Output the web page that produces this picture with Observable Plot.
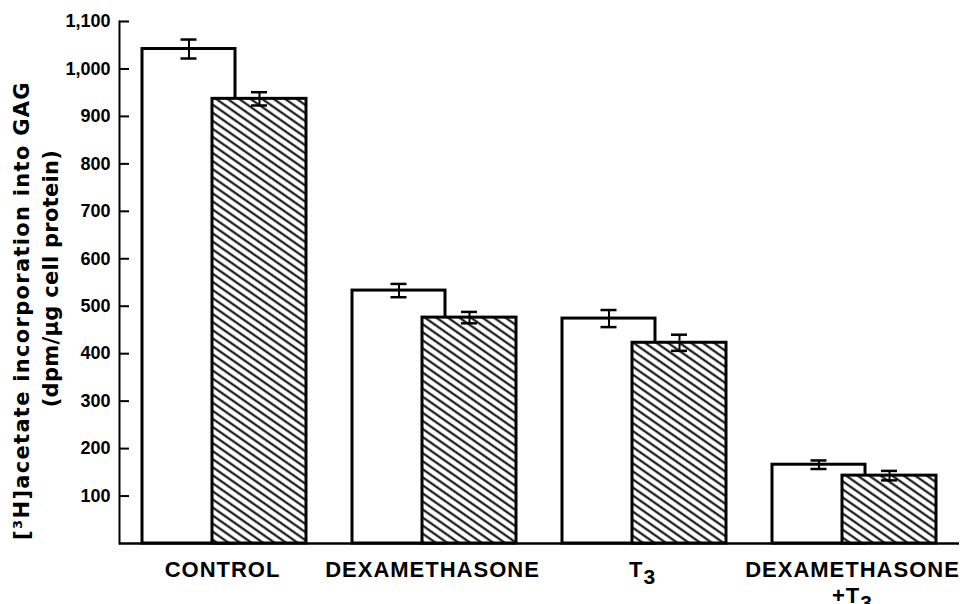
<!DOCTYPE html>
<html>
<head>
<meta charset="utf-8">
<script src="https://cdn.jsdelivr.net/npm/d3@7"></script>
<script src="https://cdn.jsdelivr.net/npm/@observablehq/plot@0.6"></script>
<style>
  html, body { margin: 0; padding: 0; background: #fff; }
</style>
</head>
<body>
<div id="chart"></div>
<script>
// ---- data ----
const categories = ["CONTROL", "DEXAMETHASONE", "T3", "DEXAMETHASONE\n+T3"];
const openValues = [1042, 533, 474, 166];
const openErrors = [20, 14, 18, 9];
const hatchedValues = [937, 476, 423, 143];
const hatchedErrors = [14, 12, 17, 10];
const tickValues = [100, 200, 300, 400, 500, 600, 700, 800, 900, 1000, 1100];
const titleLine1 = "[³H]acetate incorporation into GAG";
const titleLine2 = "(dpm/µg cell protein)";

const openRows = categories.map((c, i) => ({category: c, value: openValues[i], err: openErrors[i]}));
const hatchedRows = categories.map((c, i) => ({category: c, value: hatchedValues[i], err: hatchedErrors[i]}));

const W = 965, H = 604, ML = 119, MR = 6;
const frameW = W - ML - MR;

const plot = Plot.plot({
  width: W,
  height: H,
  marginLeft: ML,
  marginRight: MR,
  marginTop: 21,
  marginBottom: 61,
  style: {fontFamily: "'Liberation Sans', Arial, sans-serif", fontWeight: "bold", fontSize: "18px", color: "black", background: "white"},
  x: {type: "band", domain: categories, paddingInner: 0, paddingOuter: 0, axis: null},
  y: {domain: [0, 1100], axis: null},
  marks: [
    // open bars
    Plot.barY(openRows, {x: "category", y: "value", fill: "white", stroke: "black", strokeWidth: 3, insetLeft: 23, insetRight: 94}),
    Plot.ruleX(openRows, {x: "category", y1: d => d.value - d.err, y2: d => d.value + d.err, dx: -35.5, stroke: "black", strokeWidth: 2}),
    Plot.tickY(openRows, {x: "category", y: d => d.value + d.err, insetLeft: 61.5, insetRight: 132.5, stroke: "black", strokeWidth: 2.5}),
    Plot.tickY(openRows, {x: "category", y: d => d.value - d.err, insetLeft: 61.5, insetRight: 132.5, stroke: "black", strokeWidth: 2.5}),
    // hatched bars
    Plot.barY(hatchedRows, {x: "category", y: "value", fill: "url(#hatch)", stroke: "black", strokeWidth: 3, insetLeft: 93, insetRight: 23}),
    Plot.ruleX(hatchedRows, {x: "category", y1: d => d.value - d.err, y2: d => d.value + d.err, dx: 35, stroke: "black", strokeWidth: 2}),
    Plot.tickY(hatchedRows, {x: "category", y: d => d.value + d.err, insetLeft: 132, insetRight: 62, stroke: "black", strokeWidth: 2.5}),
    Plot.tickY(hatchedRows, {x: "category", y: d => d.value - d.err, insetLeft: 132, insetRight: 62, stroke: "black", strokeWidth: 2.5}),
    // axes
    Plot.frame({anchor: "left", stroke: "black", strokeWidth: 2}),
    Plot.ruleY([0], {stroke: "black", strokeWidth: 2.5}),
    Plot.tickY(tickValues, {y: d => d, insetRight: frameW - 10, stroke: "black", strokeWidth: 2}),
    Plot.axisY(tickValues, {ticks: tickValues, tickSize: 0, tickPadding: 9, tickFormat: d3.format(","), fontSize: 18, fontWeight: "bold", label: null}),
    // category labels
    Plot.text(categories, {x: d => d, text: d => d, frameAnchor: "bottom", lineAnchor: "top", dy: 15.4, dx: -2, lineHeight: 1.18, fontSize: 22, fontWeight: "bold", fill: "black", className: "xlabels"}),
    // y title
    Plot.text([titleLine1], {text: d => d, frameAnchor: "left", textAnchor: "middle", lineAnchor: "middle", rotate: -90, dx: -97, dy: 28, fontSize: 21, fontWeight: "bold", fontFamily: "'DejaVu Sans', sans-serif", fill: "black", className: "ytitle1"}),
    Plot.text([titleLine2], {text: d => d, frameAnchor: "left", textAnchor: "middle", lineAnchor: "middle", rotate: -90, dx: -68, dy: -4, fontSize: 21, fontWeight: "bold", fontFamily: "'DejaVu Sans', sans-serif", fill: "black", className: "ytitle2"})
  ]
});

// hatch pattern definition
const ns = "http://www.w3.org/2000/svg";
const defs = document.createElementNS(ns, "defs");
const pat = document.createElementNS(ns, "pattern");
pat.setAttribute("id", "hatch");
pat.setAttribute("patternUnits", "userSpaceOnUse");
pat.setAttribute("width", "10");
pat.setAttribute("height", "6.6");
pat.setAttribute("patternTransform", "rotate(35)");
const bg = document.createElementNS(ns, "rect");
bg.setAttribute("width", "10"); bg.setAttribute("height", "6.6"); bg.setAttribute("fill", "white");
const ln = document.createElementNS(ns, "line");
ln.setAttribute("x1", "-1"); ln.setAttribute("x2", "11");
ln.setAttribute("y1", "3.3"); ln.setAttribute("y2", "3.3");
ln.setAttribute("stroke", "black"); ln.setAttribute("stroke-width", "2");
pat.appendChild(bg); pat.appendChild(ln); defs.appendChild(pat);
plot.insertBefore(defs, plot.firstChild);

// letter spacing for texts
d3.select(plot).selectAll("g.xlabels text").style("letter-spacing", "1px");
d3.select(plot).selectAll("g.ytitle1 text").style("letter-spacing", "1.3px");
d3.select(plot).selectAll("g.ytitle2 text").style("letter-spacing", "0.3px");

// subscript 3 in T3 labels
d3.select(plot).selectAll("g.xlabels text, g.xlabels tspan").each(function() {
  if (this.childNodes.length === 1 && this.firstChild.nodeType === 3 && /T3$/.test(this.textContent)) {
    const t = this.textContent;
    this.textContent = t.slice(0, -1);
    const sub = document.createElementNS(ns, "tspan");
    sub.setAttribute("dy", "7");
    sub.setAttribute("font-size", "21");
    sub.textContent = "3";
    this.appendChild(sub);
  }
});

document.getElementById("chart").appendChild(plot);
</script>
</body>
</html>
